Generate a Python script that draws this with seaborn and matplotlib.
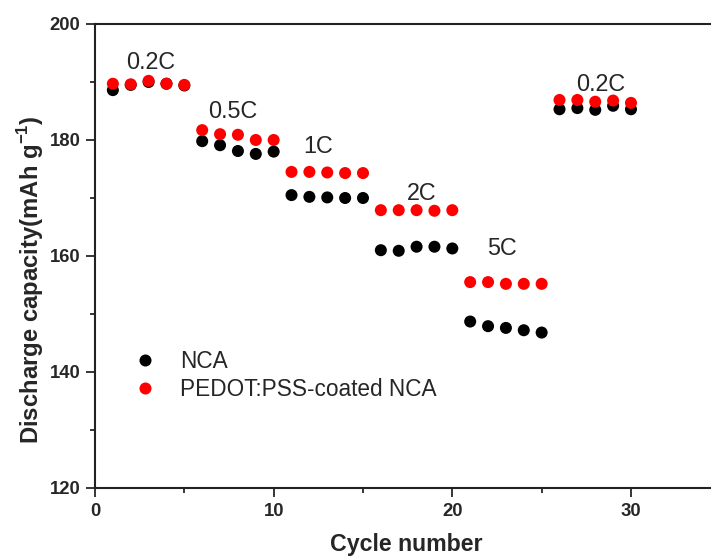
import matplotlib
matplotlib.use("Agg")
import matplotlib.pyplot as plt
import seaborn as sns
import pandas as pd
from matplotlib.ticker import MultipleLocator

cycles = list(range(1, 31))
nca = [188.6, 189.5, 190.0, 189.7, 189.4,
       179.8, 179.1, 178.1, 177.6, 178.0,
       170.5, 170.2, 170.1, 170.0, 170.0,
       161.0, 160.9, 161.6, 161.6, 161.3,
       148.7, 147.9, 147.6, 147.2, 146.8,
       185.3, 185.5, 185.2, 185.9, 185.3]
pedot = [189.7, 189.6, 190.2, 189.7, 189.5,
         181.7, 181.0, 180.9, 180.0, 180.0,
         174.5, 174.5, 174.4, 174.3, 174.3,
         167.9, 167.9, 167.9, 167.8, 167.9,
         155.5, 155.5, 155.2, 155.2, 155.2,
         186.9, 186.9, 186.6, 186.8, 186.4]
series_names = ["NCA", "PEDOT:PSS-coated NCA"]
rate_labels = ["0.2C", "0.5C", "1C", "2C", "5C", "0.2C"]
rate_x = [3.1, 7.7, 12.5, 18.3, 22.8, 28.3]
rate_y = [193.3, 184.9, 178.9, 170.8, 161.3, 189.5]

df = pd.DataFrame({
    "cycle": cycles + cycles,
    "capacity": nca + pedot,
    "sample": [series_names[0]] * len(nca) + [series_names[1]] * len(pedot),
})

sns.set_style("ticks")
plt.rcParams["font.family"] = ["Liberation Sans", "DejaVu Sans"]
plt.rcParams["mathtext.fontset"] = "custom"
plt.rcParams["mathtext.rm"] = "Liberation Sans"
plt.rcParams["mathtext.bf"] = "Liberation Sans:bold"

fig = plt.figure(figsize=(7.11, 5.6), dpi=100)
ax = fig.add_axes([95 / 711, 72 / 560, 625.3 / 711, 464 / 560])

sns.scatterplot(data=df, x="cycle", y="capacity", hue="sample",
                hue_order=series_names, palette=["black", "#ff0000"],
                s=75, linewidth=0, ax=ax, legend=True)

ax.set_xlim(0, 35)
ax.set_ylim(120, 200)
ax.xaxis.set_major_locator(MultipleLocator(10))
ax.xaxis.set_minor_locator(MultipleLocator(5))
ax.yaxis.set_major_locator(MultipleLocator(20))
ax.yaxis.set_minor_locator(MultipleLocator(10))
ax.tick_params(which="major", direction="out", length=6.5, width=1.3,
               labelsize=13.3, pad=4)
ax.tick_params(which="minor", direction="out", length=3.6, width=1.3)
for lab in ax.get_xticklabels() + ax.get_yticklabels():
    lab.set_fontweight("bold")

for side in ["left", "bottom", "top"]:
    ax.spines[side].set_linewidth(1.5)
    ax.spines[side].set_color("#222222")
ax.spines["right"].set_visible(False)

ax.set_xlabel("Cycle number", fontsize=16.7, fontweight="bold")
ax.set_ylabel("Discharge capacity(mAh g$^{\\mathregular{-1}}$)",
              fontsize=17.2, fontweight="bold")
ax.xaxis.set_label_coords(0.497, -0.098)
ax.yaxis.set_label_coords(-0.078, 0.448)

for lab, xx, yy in zip(rate_labels, rate_x, rate_y):
    ax.text(xx, yy, lab, fontsize=16.8, ha="center", va="center")

handles, labels = ax.get_legend_handles_labels()
ax.legend(handles, labels, loc="upper left",
          bbox_to_anchor=(134 / 711, 1 - 350 / 560),
          bbox_transform=fig.transFigure, frameon=False, fontsize=16.3,
          handlelength=1.0, handletextpad=1.05, labelspacing=0.22,
          borderpad=0, borderaxespad=0)

fig.savefig("out.png", dpi=100)
